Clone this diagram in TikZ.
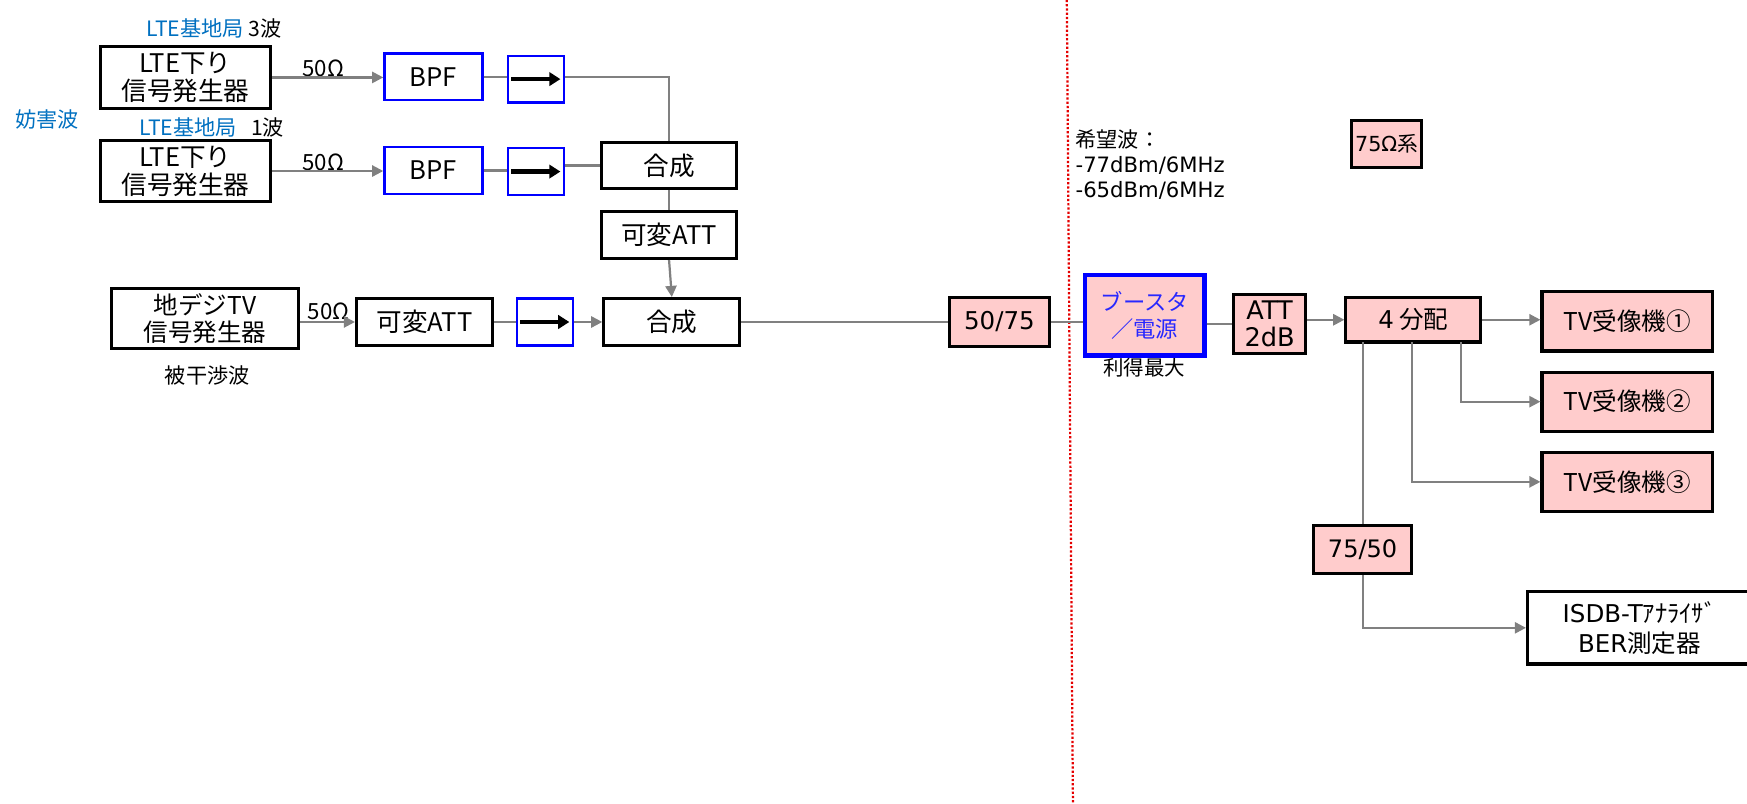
\documentclass[tikz,border=0pt]{standalone}
\usepackage{fontspec}
\setmainfont{Noto Sans CJK JP}
\newfontfamily\dv{DejaVu Sans}
\usetikzlibrary{arrows.meta}
\definecolor{lteblue}{RGB}{0,112,192}
\definecolor{pinkfill}{RGB}{255,204,204}
\definecolor{connc}{RGB}{128,128,128}
\definecolor{bluebd}{RGB}{0,0,255}
\definecolor{boosttxt}{RGB}{40,40,255}
\newcommand{\bx}[7]{\node[#6, minimum width={(#4-#2)*0.5pt}, minimum height={(#5-#3)*0.5pt}] (#1) at ({(#2+#4)/2},{(#3+#5)/2}) {#7};}
\tikzset{
  blk/.style={draw=black, line width=1.4pt, fill=white, inner sep=0pt, align=center, font=\fontsize{11.5}{12.5}\selectfont},
  bluebox/.style={draw=bluebd, line width=1pt, fill=white, inner sep=0pt, align=center, font=\fontsize{11.5}{12.5}\selectfont},
  pinkbox/.style={draw=black, line width=1.4pt, fill=pinkfill, inner sep=0pt, align=center, font=\fontsize{11}{12.5}\selectfont},
  boostbox/.style={draw=bluebd, line width=2pt, fill=pinkfill, inner sep=0pt, align=center, text=boosttxt, font=\fontsize{10}{12}\selectfont},
  conn/.style={draw=connc, line width=1pt},
  arr/.style={conn, -{Triangle[length=5pt,width=5pt]}},
  isoarr/.style={draw=black, line width=2pt, -{Triangle[length=5pt,width=6pt]}},
  lbl/.style={inner sep=0pt, font=\fontsize{9.5}{11}\selectfont},
}
\begin{document}
\begin{tikzpicture}[x=0.5pt,y=-0.5pt]
\useasboundingbox (0,0) rectangle (1568,721);
% red dotted boundary
\draw[red!90!black, line width=1pt, dash pattern=on 1pt off 0.9pt] (957.5,0) -- (963,721);
% labels
\node[lbl] (lte3lbl) at (192,26) {\textcolor{lteblue}{LTE基地局}\ 3波};
\node[lbl] (lte1lbl) at (190,114) {\textcolor{lteblue}{LTE基地局}\ \ \ 1波};
\node[lbl, text=lteblue] (jam) at (42,107) {妨害波};
\node[lbl] (victim) at (186,337) {被干渉波};
\node[lbl, font=\fontsize{9.2}{11}\selectfont] (gain) at (1027,330) {利得最大};
\node[lbl, anchor=north west, align=left, font=\fontsize{9.5}{11.3}\selectfont] (want) at (965,116) {希望波：\\{\dv -77dBm/6MHz}\\{\dv -65dBm/6MHz}};
% boxes
\bx{lte1}{90}{42}{243}{97}{blk}{LTE下り\\信号発生器}
\bx{lte2}{90}{126}{243}{181}{blk}{LTE下り\\信号発生器}
\bx{bpf1}{345}{48}{433}{90}{bluebox}{BPF}
\bx{bpf2}{345}{132}{433}{174}{bluebox}{BPF}
\bx{iso1}{456}{50}{506}{92}{bluebox}{}
\bx{iso2}{456}{133}{506}{175}{bluebox}{}
\bx{comb1}{540}{128}{661}{169}{blk}{合成}
\bx{att1}{540}{190}{661}{232}{blk}{可変ATT}
\bx{tvsrc}{100}{259}{268}{313}{blk, font=\fontsize{11}{12.5}\selectfont}{地デジTV\\信号発生器}
\bx{att2}{320}{268}{442}{310}{blk}{可変ATT}
\bx{iso3}{464}{268}{514}{310}{bluebox}{}
\bx{comb2}{542}{268}{664}{310}{blk}{合成}
\bx{conv1}{852}{267}{942}{311}{pinkbox}{{\dv 50/75}}
\bx{boost}{974}{247}{1081}{319}{boostbox}{ブースタ\\／電源}
\bx{attfix}{1107}{264}{1172}{317}{pinkbox, font=\fontsize{11.5}{12}\selectfont}{{\dv ATT}\\{\dv 2dB}}
\bx{split}{1208}{267}{1329}{307}{pinkbox}{{\dv 4} 分配}
\bx{ohm}{1213}{108}{1276}{150}{pinkbox, font=\fontsize{9.3}{10}\selectfont}{{\dv 75Ω}系}
\bx{tv1}{1384}{262}{1537}{315}{pinkbox}{TV受像機①}
\bx{tv2}{1384}{334}{1537}{387}{pinkbox}{TV受像機②}
\bx{tv3}{1384}{406}{1537}{459}{pinkbox}{TV受像機③}
\bx{conv2}{1179}{472}{1267}{515}{pinkbox, font=\fontsize{10.8}{12}\selectfont}{{\dv 75/50}}
\bx{isdb}{1371}{531}{1572}{596}{blk, font=\fontsize{11}{13.5}\selectfont}{{\dv ISDB-T}ｱﾅﾗｲｻﾞ\\{\dv BER}測定器}
% 50 ohm labels
\node[lbl, font=\fontsize{10}{11}\selectfont] (o1) at (290,61) {50Ω};
\node[lbl, font=\fontsize{10}{11}\selectfont] (o2) at (290,146) {50Ω};
\node[lbl, font=\fontsize{10}{11}\selectfont] (o3) at (295,279) {50Ω};
% isolator arrows
\draw[isoarr] ([xshift=2pt]iso1.west) -- ([xshift=-2pt]iso1.east);
\draw[isoarr] ([xshift=2pt]iso2.west) -- ([xshift=-2pt]iso2.east);
\draw[isoarr] ([xshift=2pt]iso3.west) -- ([xshift=-2pt]iso3.east);
% connectors
\draw[arr] (lte1.east) -- (bpf1.west |- lte1.east);
\draw[conn] (bpf1.east) -- (iso1.west |- bpf1.east);
\draw[conn] (iso1.east |- bpf1.east) -| (comb1.north);
\draw[arr] (lte2.east) -- (bpf2.west |- lte2.east);
\draw[conn] (bpf2.east) -- (iso2.west |- bpf2.east);
\draw[conn] (iso2.east |- comb1.west) -- (comb1.west);
\draw[conn] (comb1.south) -- (att1.north);
\draw[arr] (att1.south) -- (comb2.north);
\draw[arr] (tvsrc.east |- att2.west) -- (att2.west);
\draw[conn] (att2.east) -- (iso3.west);
\draw[arr] (iso3.east) -- (comb2.west);
\draw[conn] (comb2.east) -- (conv1.west);
\draw[conn] (conv1.east) -- (boost.west |- conv1.east);
\draw[conn] (boost.east |- attfix.west) -- (attfix.west);
\draw[arr] (attfix.east |- split.west) -- (split.west);
\draw[arr] (split.east) -- (tv1.west |- split.east);
\coordinate (s2) at (1311,307);
\coordinate (s3) at (1267,307);
\coordinate (s4) at (1223,307);
\draw[arr] (s2) |- (tv2.west);
\draw[arr] (s3) |- (tv3.west);
\draw[conn] (s4) -- (conv2.north -| s4);
\draw[arr] (conv2.south -| s4) |- (isdb.west);
\end{tikzpicture}
\end{document}
